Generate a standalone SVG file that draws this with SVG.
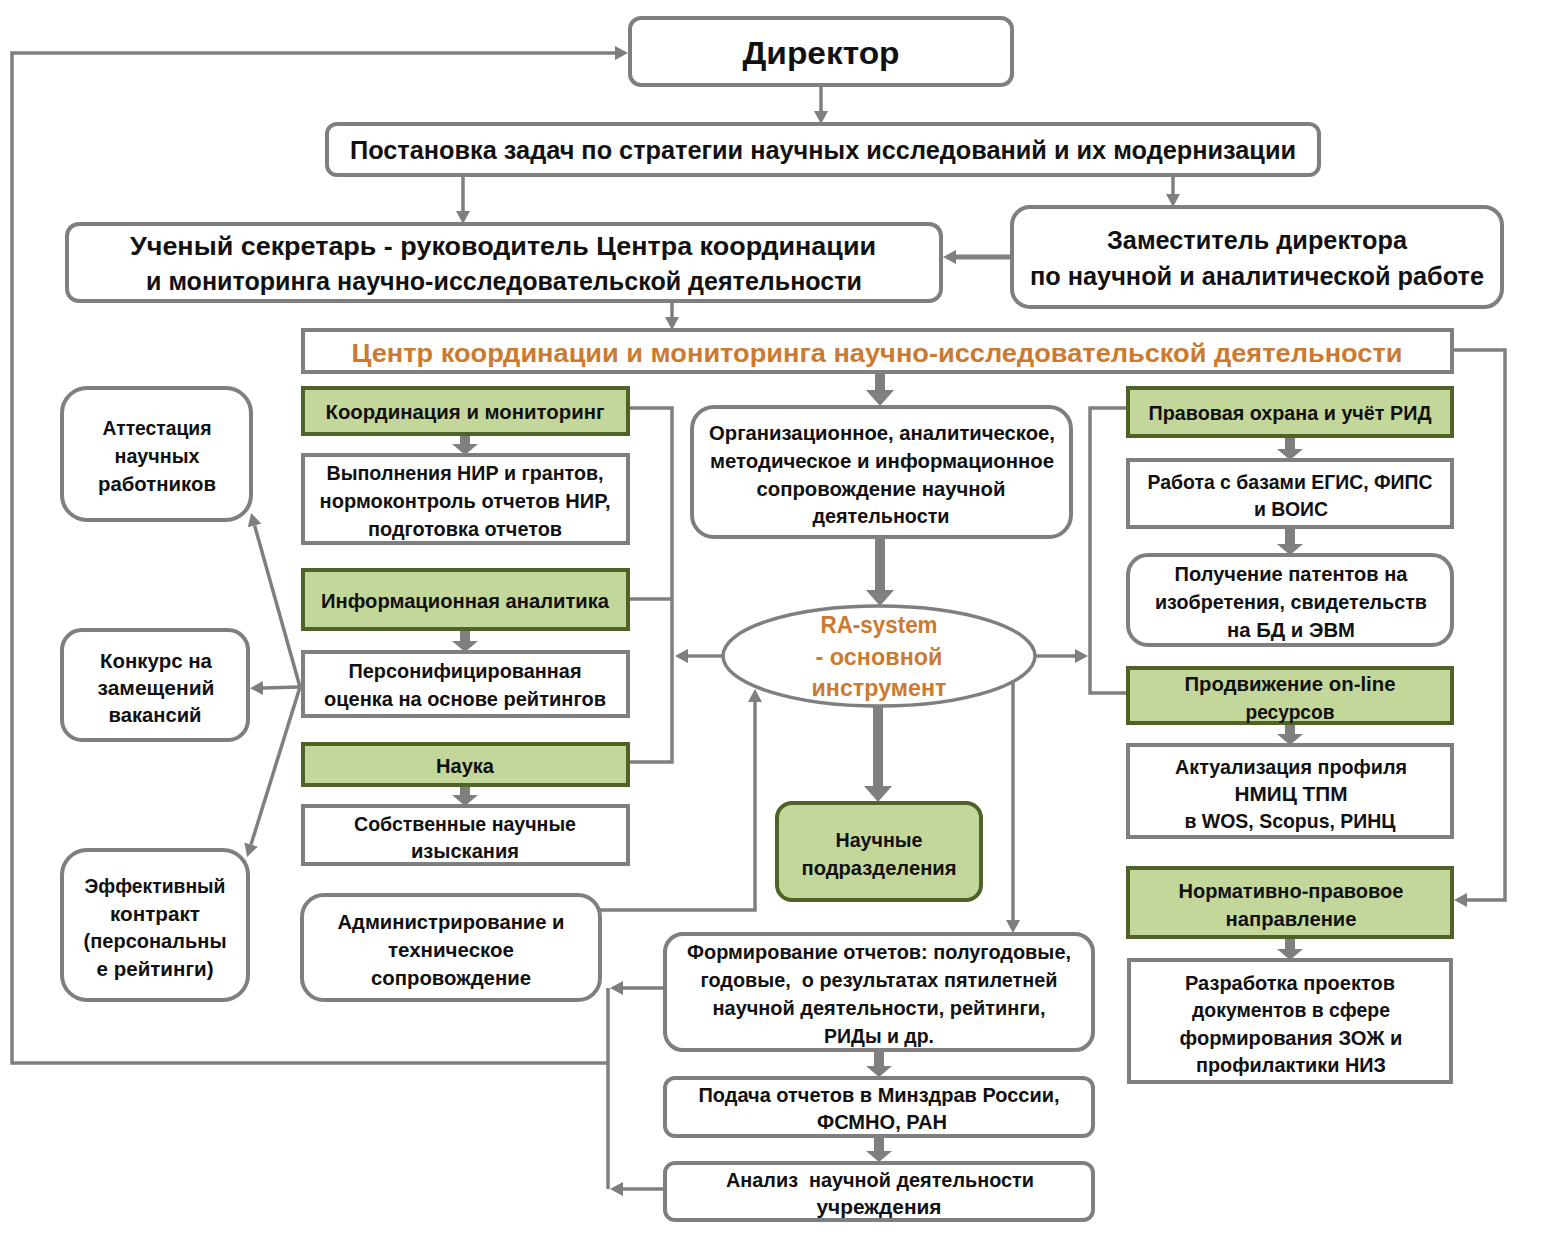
<svg xmlns="http://www.w3.org/2000/svg" width="1548" height="1241" viewBox="0 0 1548 1241">
<style>
.bg{fill:#fff}
.box{fill:#fff;stroke:#7f7f7f;stroke-width:4}
.grn{fill:#c4d79b;stroke:#4f6228;stroke-width:4}
.t{font-family:"Liberation Sans",Arial,sans-serif;font-weight:bold;text-anchor:middle;dominant-baseline:central;fill:#111;font-size:20.5px}
.big{font-size:25px}
.or{fill:#cc7a30}
.ln{fill:none;stroke:#7f7f7f;stroke-width:3.5}
.thk{fill:none;stroke:#7f7f7f;stroke-width:10}
</style>
<defs>
<marker id="a" markerUnits="userSpaceOnUse" markerWidth="13" markerHeight="14" refX="0" refY="7" orient="auto"><path d="M0,0 L13,7 L0,14 z" fill="#7f7f7f"/></marker>
<marker id="b" markerUnits="userSpaceOnUse" markerWidth="16" markerHeight="28" refX="0" refY="14" orient="auto"><path d="M0,0 L16,14 L0,28 z" fill="#7f7f7f"/></marker>
<marker id="c" markerUnits="userSpaceOnUse" markerWidth="11" markerHeight="26" refX="0" refY="13" orient="auto"><path d="M0,0 L11,13 L0,26 z" fill="#7f7f7f"/></marker>
</defs>
<rect class="bg" x="0" y="0" width="1548" height="1241"/>

<g id="connectors">
<line class="ln" x1="821" y1="85" x2="821" y2="111" marker-end="url(#a)"/>
<line class="ln" x1="463" y1="175" x2="463" y2="211" marker-end="url(#a)"/>
<line class="ln" x1="1173" y1="175" x2="1173" y2="194" marker-end="url(#a)"/>
<line class="ln" x1="1012" y1="257" x2="956" y2="257" style="stroke-width:5" marker-end="url(#a)"/>
<line class="ln" x1="672" y1="301" x2="672" y2="317" marker-end="url(#a)"/>
<polyline class="ln" points="1452,350 1505,350 1505,900 1467,900" marker-end="url(#a)"/>
<line class="thk" x1="880" y1="372" x2="880" y2="390" marker-end="url(#b)"/>
<line class="thk" x1="880" y1="537" x2="880" y2="590" marker-end="url(#b)"/>
<line class="thk" x1="878" y1="706" x2="878" y2="786" marker-end="url(#b)"/>
<line class="thk" x1="465" y1="434" x2="465" y2="444" marker-end="url(#c)"/>
<line class="thk" x1="465" y1="629" x2="465" y2="641" marker-end="url(#c)"/>
<line class="thk" x1="465" y1="785" x2="465" y2="795" marker-end="url(#c)"/>
<line class="thk" x1="1290" y1="436" x2="1290" y2="449" marker-end="url(#c)"/>
<line class="thk" x1="1290" y1="527" x2="1290" y2="544" marker-end="url(#c)"/>
<line class="thk" x1="1290" y1="723" x2="1290" y2="734" marker-end="url(#c)"/>
<line class="thk" x1="1290" y1="937" x2="1290" y2="949" marker-end="url(#c)"/>
<line class="thk" x1="879" y1="1050" x2="879" y2="1066" marker-end="url(#c)"/>
<line class="thk" x1="879" y1="1136" x2="879" y2="1151" marker-end="url(#c)"/>
<polyline class="ln" points="628,408 672,408 672,762 628,762"/>
<line class="ln" x1="628" y1="599" x2="672" y2="599"/>
<line class="ln" x1="723" y1="656" x2="688" y2="656" marker-end="url(#a)"/>
<polyline class="ln" points="1128,408 1090,408 1090,693 1128,693"/>
<line class="ln" x1="1035" y1="656" x2="1075" y2="656" marker-end="url(#a)"/>
<line class="ln" x1="300" y1="687" x2="254.6" y2="525.5" marker-end="url(#a)"/>
<line class="ln" x1="300" y1="687" x2="263" y2="688" marker-end="url(#a)"/>
<line class="ln" x1="300" y1="687" x2="251" y2="844.5" marker-end="url(#a)"/>
<polyline class="ln" points="600,910 755,910 755,702" marker-end="url(#a)"/>
<line class="ln" x1="1013" y1="682" x2="1013" y2="920" marker-end="url(#a)"/>
<line class="ln" x1="665" y1="988" x2="623" y2="988" marker-end="url(#a)"/>
<line class="ln" x1="665" y1="1189" x2="623" y2="1189" marker-end="url(#a)"/>
<polyline class="ln" points="608,988 608,1189"/>
<polyline class="ln" points="608,1063 12,1063 12,53 615,53" marker-end="url(#a)"/>
</g>

<g id="director"><rect class="box" x="630" y="18" width="382" height="67" rx="11"/>
<text class="t" x="821" y="53" style="font-size:32px" textLength="157" lengthAdjust="spacingAndGlyphs">Директор</text></g>

<g id="postanovka"><rect class="box" x="327" y="124" width="992" height="51" rx="10"/>
<text class="t big" x="823" y="150" textLength="946" lengthAdjust="spacingAndGlyphs">Постановка задач по стратегии научных исследований и их модернизации</text></g>

<g id="secretary"><rect class="box" x="67" y="224" width="874" height="77" rx="12"/>
<text class="t big" x="503" y="246" textLength="746" lengthAdjust="spacingAndGlyphs">Ученый секретарь - руководитель Центра координации</text>
<text class="t big" x="504" y="281" textLength="716" lengthAdjust="spacingAndGlyphs">и мониторинга научно-исследовательской деятельности</text></g>

<g id="deputy"><rect class="box" x="1012" y="207" width="490" height="100" rx="18"/>
<text class="t big" x="1257" y="240" textLength="300" lengthAdjust="spacingAndGlyphs">Заместитель директора</text>
<text class="t big" x="1257" y="276" textLength="454" lengthAdjust="spacingAndGlyphs">по научной и аналитической работе</text></g>

<g id="center"><rect class="box" x="303" y="330" width="1149" height="42"/>
<text class="t or" x="877" y="353" style="font-size:26px" textLength="1051" lengthAdjust="spacingAndGlyphs">Центр координации и мониторинга научно-исследовательской деятельности</text></g>

<g id="coord"><rect class="grn" x="303" y="388" width="325" height="46"/>
<text class="t" x="465" y="411" textLength="279" lengthAdjust="spacingAndGlyphs">Координация и мониторинг</text></g>
<g id="vypolnenie"><rect class="box" x="303" y="455" width="325" height="88"/>
<text class="t" x="465" y="472" textLength="277" lengthAdjust="spacingAndGlyphs">Выполнения НИР и грантов,</text>
<text class="t" x="465" y="500" textLength="291" lengthAdjust="spacingAndGlyphs">нормоконтроль отчетов НИР,</text>
<text class="t" x="465" y="528" textLength="194" lengthAdjust="spacingAndGlyphs">подготовка отчетов</text></g>
<g id="infoanalytics"><rect class="grn" x="303" y="570" width="325" height="59"/>
<text class="t" x="465" y="600" textLength="288" lengthAdjust="spacingAndGlyphs">Информационная аналитика</text></g>
<g id="personal"><rect class="box" x="303" y="652" width="325" height="64"/>
<text class="t" x="465" y="670" textLength="233" lengthAdjust="spacingAndGlyphs">Персонифицированная</text>
<text class="t" x="465" y="698" textLength="282" lengthAdjust="spacingAndGlyphs">оценка на основе рейтингов</text></g>
<g id="nauka"><rect class="grn" x="303" y="744" width="325" height="41"/>
<text class="t" x="465" y="765" textLength="58" lengthAdjust="spacingAndGlyphs">Наука</text></g>
<g id="sobstv"><rect class="box" x="303" y="806" width="325" height="58"/>
<text class="t" x="465" y="823" textLength="222" lengthAdjust="spacingAndGlyphs">Собственные научные</text>
<text class="t" x="465" y="850" textLength="108" lengthAdjust="spacingAndGlyphs">изыскания</text></g>

<g id="attest"><rect class="box" x="62" y="388" width="189" height="132" rx="25"/>
<text class="t" x="157" y="427" textLength="109" lengthAdjust="spacingAndGlyphs">Аттестация</text>
<text class="t" x="157" y="455" textLength="85" lengthAdjust="spacingAndGlyphs">научных</text>
<text class="t" x="157" y="483" textLength="118" lengthAdjust="spacingAndGlyphs">работников</text></g>
<g id="konkurs"><rect class="box" x="62" y="630" width="186" height="110" rx="20"/>
<text class="t" x="156" y="660" textLength="112" lengthAdjust="spacingAndGlyphs">Конкурс на</text>
<text class="t" x="156" y="687" textLength="117" lengthAdjust="spacingAndGlyphs">замещений</text>
<text class="t" x="155" y="714" textLength="93" lengthAdjust="spacingAndGlyphs">вакансий</text></g>
<g id="effective"><rect class="box" x="62" y="850" width="186" height="150" rx="25"/>
<text class="t" x="155" y="885" textLength="141" lengthAdjust="spacingAndGlyphs">Эффективный</text>
<text class="t" x="155" y="913" textLength="90" lengthAdjust="spacingAndGlyphs">контракт</text>
<text class="t" x="155" y="940" textLength="143" lengthAdjust="spacingAndGlyphs">(персональны</text>
<text class="t" x="155" y="968" textLength="117" lengthAdjust="spacingAndGlyphs">е рейтинги)</text></g>

<g id="admin"><rect class="box" x="302" y="895" width="298" height="105" rx="22"/>
<text class="t" x="451" y="921" textLength="227" lengthAdjust="spacingAndGlyphs">Администрирование и</text>
<text class="t" x="451" y="949" textLength="126" lengthAdjust="spacingAndGlyphs">техническое</text>
<text class="t" x="451" y="977" textLength="160" lengthAdjust="spacingAndGlyphs">сопровождение</text></g>

<g id="org"><rect class="box" x="692" y="407" width="379" height="130" rx="22"/>
<text class="t" x="882" y="432" textLength="346" lengthAdjust="spacingAndGlyphs">Организационное, аналитическое,</text>
<text class="t" x="882" y="460" textLength="344" lengthAdjust="spacingAndGlyphs">методическое и информационное</text>
<text class="t" x="881" y="488" textLength="249" lengthAdjust="spacingAndGlyphs">сопровождение научной</text>
<text class="t" x="881" y="515" textLength="137" lengthAdjust="spacingAndGlyphs">деятельности</text></g>

<g id="rasystem"><ellipse cx="879" cy="656" rx="156" ry="50" fill="#fff" stroke="#7f7f7f" stroke-width="3.5"/>
<text class="t or" x="879" y="625" style="font-size:23px" textLength="117" lengthAdjust="spacingAndGlyphs">RA-system</text>
<text class="t or" x="879" y="657" style="font-size:23px" textLength="127" lengthAdjust="spacingAndGlyphs">- основной</text>
<text class="t or" x="879" y="688" style="font-size:23px" textLength="135" lengthAdjust="spacingAndGlyphs">инструмент</text></g>

<g id="divisions"><rect class="grn" x="777" y="803" width="204" height="97" rx="15"/>
<text class="t" x="879" y="839" textLength="87" lengthAdjust="spacingAndGlyphs">Научные</text>
<text class="t" x="879" y="867" textLength="155" lengthAdjust="spacingAndGlyphs">подразделения</text></g>

<g id="reports"><rect class="box" x="665" y="934" width="428" height="116" rx="18"/>
<text class="t" x="879" y="951" textLength="384" lengthAdjust="spacingAndGlyphs">Формирование отчетов: полугодовые,</text>
<text class="t" x="879" y="979" textLength="357" lengthAdjust="spacingAndGlyphs" xml:space="preserve">годовые,  о результатах пятилетней</text>
<text class="t" x="879" y="1007" textLength="333" lengthAdjust="spacingAndGlyphs">научной деятельности, рейтинги,</text>
<text class="t" x="879" y="1035" textLength="110" lengthAdjust="spacingAndGlyphs">РИДы и др.</text></g>
<g id="submit"><rect class="box" x="665" y="1078" width="428" height="58" rx="10"/>
<text class="t" x="879" y="1094" textLength="361" lengthAdjust="spacingAndGlyphs">Подача отчетов в Минздрав России,</text>
<text class="t" x="882" y="1121" textLength="130" lengthAdjust="spacingAndGlyphs">ФСМНО, РАН</text></g>
<g id="analysis"><rect class="box" x="665" y="1163" width="428" height="57" rx="10"/>
<text class="t" x="880" y="1179" textLength="308" lengthAdjust="spacingAndGlyphs" xml:space="preserve">Анализ  научной деятельности</text>
<text class="t" x="879" y="1206" textLength="125" lengthAdjust="spacingAndGlyphs">учреждения</text></g>

<g id="legal"><rect class="grn" x="1128" y="388" width="324" height="48"/>
<text class="t" x="1290" y="412" textLength="283" lengthAdjust="spacingAndGlyphs">Правовая охрана и учёт РИД</text></g>
<g id="bases"><rect class="box" x="1128" y="460" width="324" height="67"/>
<text class="t" x="1290" y="481" textLength="285" lengthAdjust="spacingAndGlyphs">Работа с базами ЕГИС, ФИПС</text>
<text class="t" x="1291" y="508" textLength="74" lengthAdjust="spacingAndGlyphs">и ВОИС</text></g>
<g id="patents"><rect class="box" x="1128" y="555" width="324" height="90" rx="20"/>
<text class="t" x="1291" y="573" textLength="233" lengthAdjust="spacingAndGlyphs">Получение патентов на</text>
<text class="t" x="1291" y="601" textLength="272" lengthAdjust="spacingAndGlyphs">изобретения, свидетельств</text>
<text class="t" x="1291" y="629" textLength="128" lengthAdjust="spacingAndGlyphs">на БД и ЭВМ</text></g>
<g id="online"><rect class="grn" x="1128" y="668" width="324" height="55"/>
<text class="t" x="1290" y="683" textLength="211" lengthAdjust="spacingAndGlyphs">Продвижение on-line</text>
<text class="t" x="1290" y="711" textLength="89" lengthAdjust="spacingAndGlyphs">ресурсов</text></g>
<g id="profile"><rect class="box" x="1128" y="745" width="324" height="92"/>
<text class="t" x="1291" y="766" textLength="232" lengthAdjust="spacingAndGlyphs">Актуализация профиля</text>
<text class="t" x="1291" y="793" textLength="113" lengthAdjust="spacingAndGlyphs">НМИЦ ТПМ</text>
<text class="t" x="1290" y="820" textLength="211" lengthAdjust="spacingAndGlyphs">в WOS, Scopus, РИНЦ</text></g>
<g id="normative"><rect class="grn" x="1128" y="868" width="324" height="69"/>
<text class="t" x="1291" y="890" textLength="225" lengthAdjust="spacingAndGlyphs">Нормативно-правовое</text>
<text class="t" x="1291" y="918" textLength="131" lengthAdjust="spacingAndGlyphs">направление</text></g>
<g id="drafts"><rect class="box" x="1129" y="960" width="322" height="122"/>
<text class="t" x="1290" y="982" textLength="210" lengthAdjust="spacingAndGlyphs">Разработка проектов</text>
<text class="t" x="1291" y="1009" textLength="198" lengthAdjust="spacingAndGlyphs">документов в сфере</text>
<text class="t" x="1291" y="1037" textLength="223" lengthAdjust="spacingAndGlyphs">формирования ЗОЖ и</text>
<text class="t" x="1291" y="1064" textLength="190" lengthAdjust="spacingAndGlyphs">профилактики НИЗ</text></g>
</svg>
